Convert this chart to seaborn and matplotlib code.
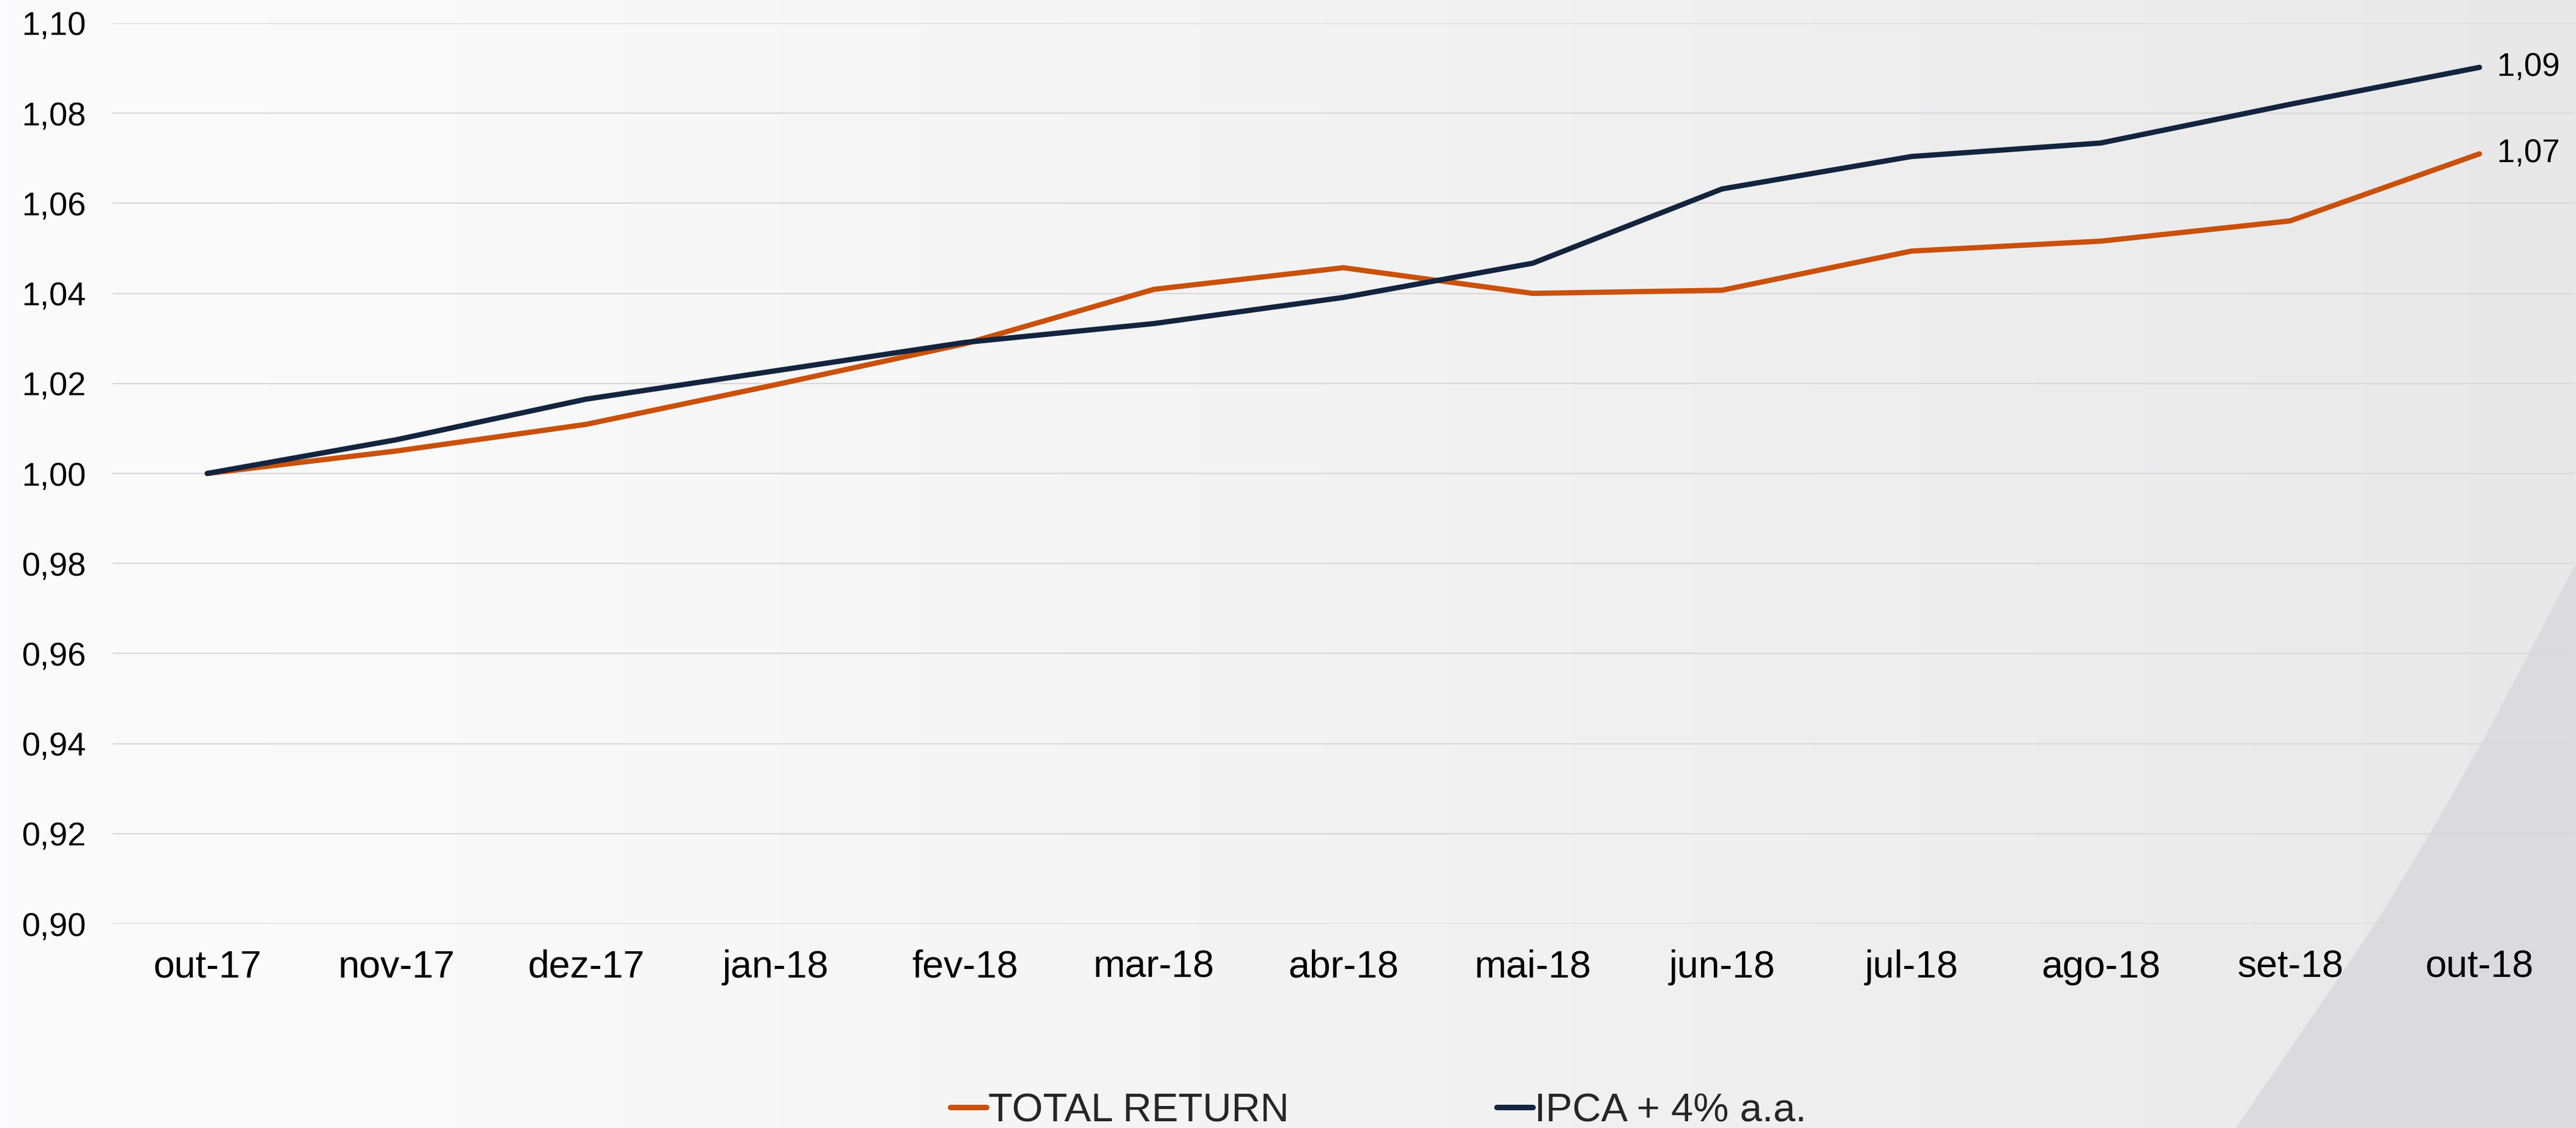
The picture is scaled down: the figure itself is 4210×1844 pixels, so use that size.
import matplotlib
matplotlib.use("Agg")
import matplotlib.pyplot as plt
from matplotlib.patches import Polygon
from matplotlib.ticker import FuncFormatter
import numpy as np
import pandas as pd
import seaborn as sns

# Data
months = ["out-17", "nov-17", "dez-17", "jan-18", "fev-18", "mar-18", "abr-18",
          "mai-18", "jun-18", "jul-18", "ago-18", "set-18", "out-18"]
total_return = [1.000, 1.0050, 1.0109, 1.0197, 1.0288, 1.0409, 1.0457,
                1.0400, 1.0407, 1.0494, 1.0516, 1.0561, 1.0710]
ipca = [1.000, 1.0075, 1.0165, 1.0228, 1.0291, 1.0333, 1.0391,
        1.0467, 1.0632, 1.0704, 1.0734, 1.0820, 1.0902]
series_names = ["TOTAL RETURN", "IPCA + 4% a.a."]
colors = ["#C9510C", "#13243F"]

df = pd.DataFrame({
    "mes": months * 2,
    "valor": total_return + ipca,
    "serie": [series_names[0]] * len(months) + [series_names[1]] * len(months),
})

sns.set_theme(style="white")
plt.rcParams["font.family"] = ["Liberation Sans", "DejaVu Sans"]

W, H = 4210, 1844
fig = plt.figure(figsize=(W / 100, H / 100), dpi=100)

# Background: soft horizontal gradient plus darker wedge bottom-right
bg = fig.add_axes([0, 0, 1, 1], zorder=-10)
bg.set_axis_off()
xs = np.linspace(0, 1, 400)
shade = 251 - 19 * xs ** 1.3
grad = np.tile(shade / 255.0, (2, 1))
rgb = np.dstack([grad, grad, grad + 0.004])
bg.imshow(np.clip(rgb, 0, 1), extent=[0, 1, 0, 1], aspect="auto", origin="lower")
wedge = [(4210, 920), (4134, 1066), (4057, 1213), (3971, 1363), (3885, 1506),
         (3772, 1672), (3654, 1844), (4210, 1844)]
bg.add_patch(Polygon([(x / W, 1 - y / H) for x, y in wedge], closed=True,
                     facecolor="#DBDBDD", edgecolor="none"))
bg.set_xlim(0, 1)
bg.set_ylim(0, 1)

ax = fig.add_axes([184 / W, 1 - 1510 / H, (4207 - 184) / W, (1510 - 38) / H])
ax.set_facecolor("none")

sns.lineplot(data=df, x="mes", y="valor", hue="serie", palette=colors,
             linewidth=6.2, ax=ax, sort=False)
for line in ax.get_lines():
    line.set_solid_capstyle("round")

ax.set_xlim(-0.5, len(months) - 0.5)
ax.set_ylim(0.90, 1.10)
ax.set_yticks(np.arange(0.90, 1.1001, 0.02))
ax.yaxis.set_major_formatter(FuncFormatter(lambda v, p: f"{v:.2f}".replace(".", ",")))
ax.grid(axis="y", color="#D9D9D9", linewidth=1.6)
ax.grid(axis="x", visible=False)
ax.set_axisbelow(True)
for s in ax.spines.values():
    s.set_visible(False)
ax.tick_params(axis="y", labelsize=39, length=0, pad=31, colors="black")
ax.tick_params(axis="x", labelsize=45, length=0, pad=30, colors="black")
ax.set_xlabel("")
ax.set_ylabel("")

# End-value labels
for vals in [ipca, total_return]:
    ax.annotate(f"{vals[-1]:.2f}".replace(".", ","), xy=(len(months) - 1, vals[-1]),
                xytext=(21, 0), textcoords="offset points", va="center", ha="left",
                fontsize=38, color="black")

handles, labels = ax.get_legend_handles_labels()
ax.legend_.remove()
leg = fig.legend(handles, labels, loc="center left",
                 bbox_to_anchor=(1553 / W, 1 - 1816 / H), ncol=2, frameon=False,
                 fontsize=47, handlelength=0.9, handletextpad=0.05,
                 columnspacing=5.2, borderpad=0, borderaxespad=0)
for h in leg.get_lines():
    h.set_linewidth(6.5)
    h.set_solid_capstyle("round")

fig.savefig("out.png", dpi=100)
